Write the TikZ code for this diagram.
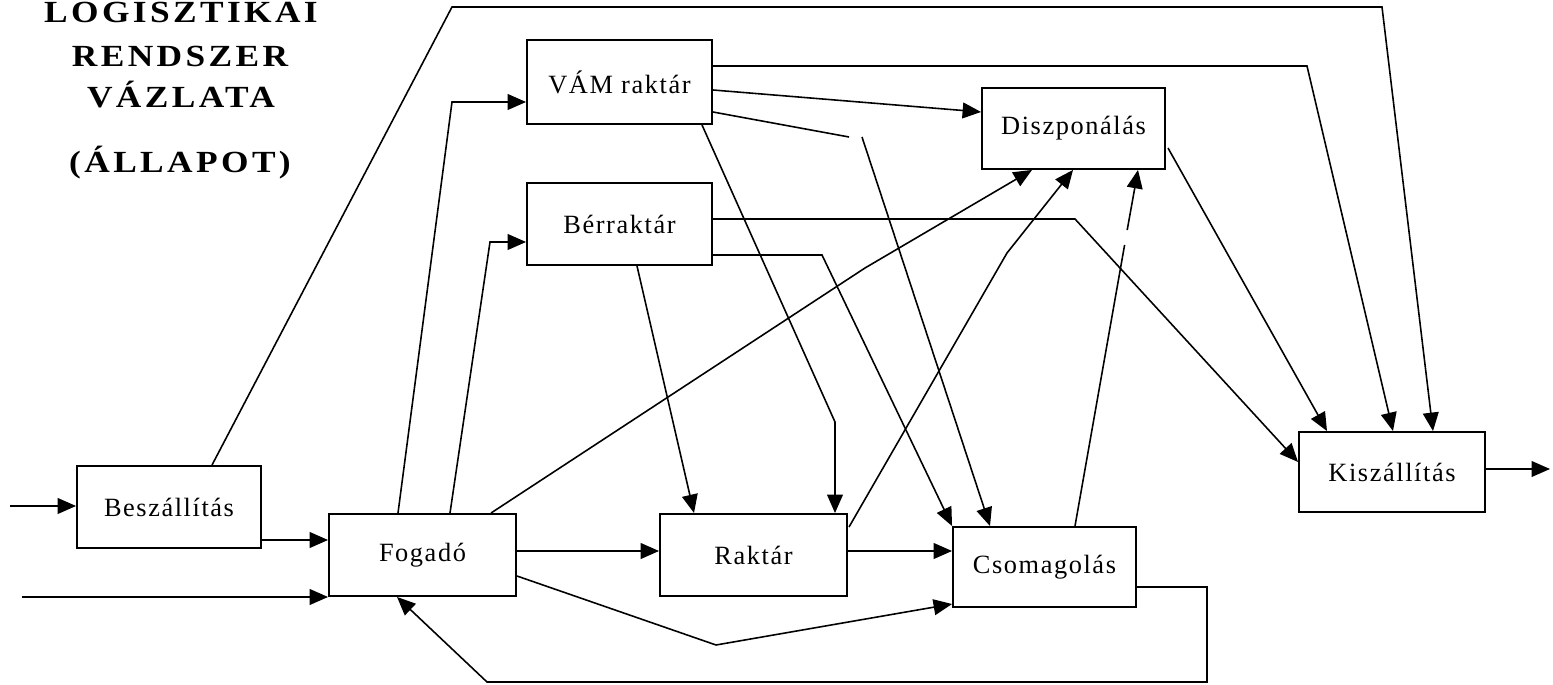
\documentclass[tikz,border=0pt]{standalone}
\usepackage{fontspec}
\setmainfont{Liberation Serif}
\newfontfamily\boxfont[LetterSpace=6]{Liberation Serif}
\newfontfamily\titlefont[LetterSpace=11,FakeStretch=1.15]{Liberation Serif}
\usetikzlibrary{arrows.meta}
\tikzset{
  box/.style={draw, line width=1.1pt, inner sep=0pt, font={\boxfont\fontsize{15}{18}\selectfont}},
  ln/.style={line width=0.9pt, line join=miter},
  arr/.style={ln, -{Triangle[length=10.5pt,width=9pt]}},
  ttl/.style={font={\titlefont\bfseries\fontsize{17.5}{20}\selectfont}, anchor=base, inner sep=0pt}
}
\begin{document}
\begin{tikzpicture}[x=0.02cm,y=-0.02cm]
\useasboundingbox (0,0) rectangle (1553,685);
% title
\node[ttl] (t1) at (181,23) {LOGISZTIKAI};
\node[ttl] (t2) at (180,67) {RENDSZER};
\node[ttl] (t3) at (181,108) {VÁZLATA};
\node[ttl] (t4) at (180,173) {(ÁLLAPOT)};
% boxes
\node[box, minimum width=3.7cm, minimum height=1.68cm] (vam) at (619.5,82) {VÁM raktár};
\node[box, minimum width=3.66cm, minimum height=1.62cm] (disz) at (1073.5,128.5) {Diszponálás};
\node[box, minimum width=3.7cm, minimum height=1.64cm] (ber) at (619.5,224) {Bérraktár};
\node[box, minimum width=3.68cm, minimum height=1.64cm] (besz) at (169,507) {Beszállítás};
\node[box, minimum width=3.74cm, minimum height=1.64cm] (fog) at (422.5,555) {Fogadó};
\node[box, minimum width=3.74cm, minimum height=1.64cm] (rak) at (753.5,555) {Raktár};
\node[box, minimum width=3.66cm, minimum height=1.6cm] (csom) at (1044.5,567) {Csomagolás};
\node[box, minimum width=3.72cm, minimum height=1.6cm] (kisz) at (1392,472) {Kiszállítás};
% free ends
\coordinate (in1) at (10,506);
\coordinate (in2) at (22,597);
\coordinate (out) at (1550,469);
% inputs
\draw[arr] (in1) -- (besz.west |- in1);
\draw[arr] (besz.east |- 0,540) -- (fog.west |- 0,540);
\draw[arr] (in2) -- (fog.west |- in2);
% Beszallitas -> Kiszallitas (top route)
\draw[arr] (besz.north -| 212,0) -- (452,7) -- (1382,7) -- (kisz.north -| 1433,0);
% Fogado -> VAM, Berraktar, Diszponalas
\draw[arr] (fog.north -| 398,0) -- (452,102) -- (vam.west |- 0,102);
\draw[arr] (fog.north -| 450,0) -- (490,242) -- (ber.west |- 0,242);
\draw[arr] (fog.north -| 491,0) -- (865,268) -- (disz.south -| 1032,0);
% Raktar -> Diszponalas
\draw[arr] (849,527) -- (1007,253) -- (disz.south -| 1073,0);
% Csomagolas -> Diszponalas (with gap)
\draw[ln] (csom.north -| 1075,0) -- (1124.6,245);
\draw[arr] (1127.2,230) -- (disz.south -| 1138,0);
% VAM raktar outputs
\draw[arr] (vam.east |- 0,66) -- (1307,66) -- (kisz.north -| 1393,0);
\draw[arr] (vam.east |- 0,90) -- (disz.west |- 0,112);
\draw[ln] (vam.east |- 0,112) -- (849,137);
\draw[arr] (862,137) -- (csom.north -| 990,0);
\draw[arr] (vam.south -| 702,0) -- (835,422) -- (rak.north -| 835,0);
% Berraktar outputs
\draw[arr] (ber.east |- 0,219) -- (1075,219) -- (kisz.west |- 0,462);
\draw[arr] (ber.east |- 0,255) -- (822,255) -- (csom.north west);
\draw[arr] (ber.south -| 637,0) -- (rak.north -| 694,0);
% Diszponalas -> Kiszallitas
\draw[arr] (1168,148) -- (kisz.north -| 1327,0);
% output
\draw[arr] (kisz.east |- out) -- (out);
% main chain
\draw[arr] (fog.east |- 0,551) -- (rak.west |- 0,551);
\draw[arr] (rak.east |- 0,551) -- (csom.west |- 0,551);
\draw[arr] (fog.east |- 0,576) -- (716,645) -- (csom.west |- 0,604);
% return loop
\draw[arr] (csom.east |- 0,587) -- (1207,587) -- (1207,682) -- (487,682) -- (fog.south -| 397,0);
\end{tikzpicture}
\end{document}
